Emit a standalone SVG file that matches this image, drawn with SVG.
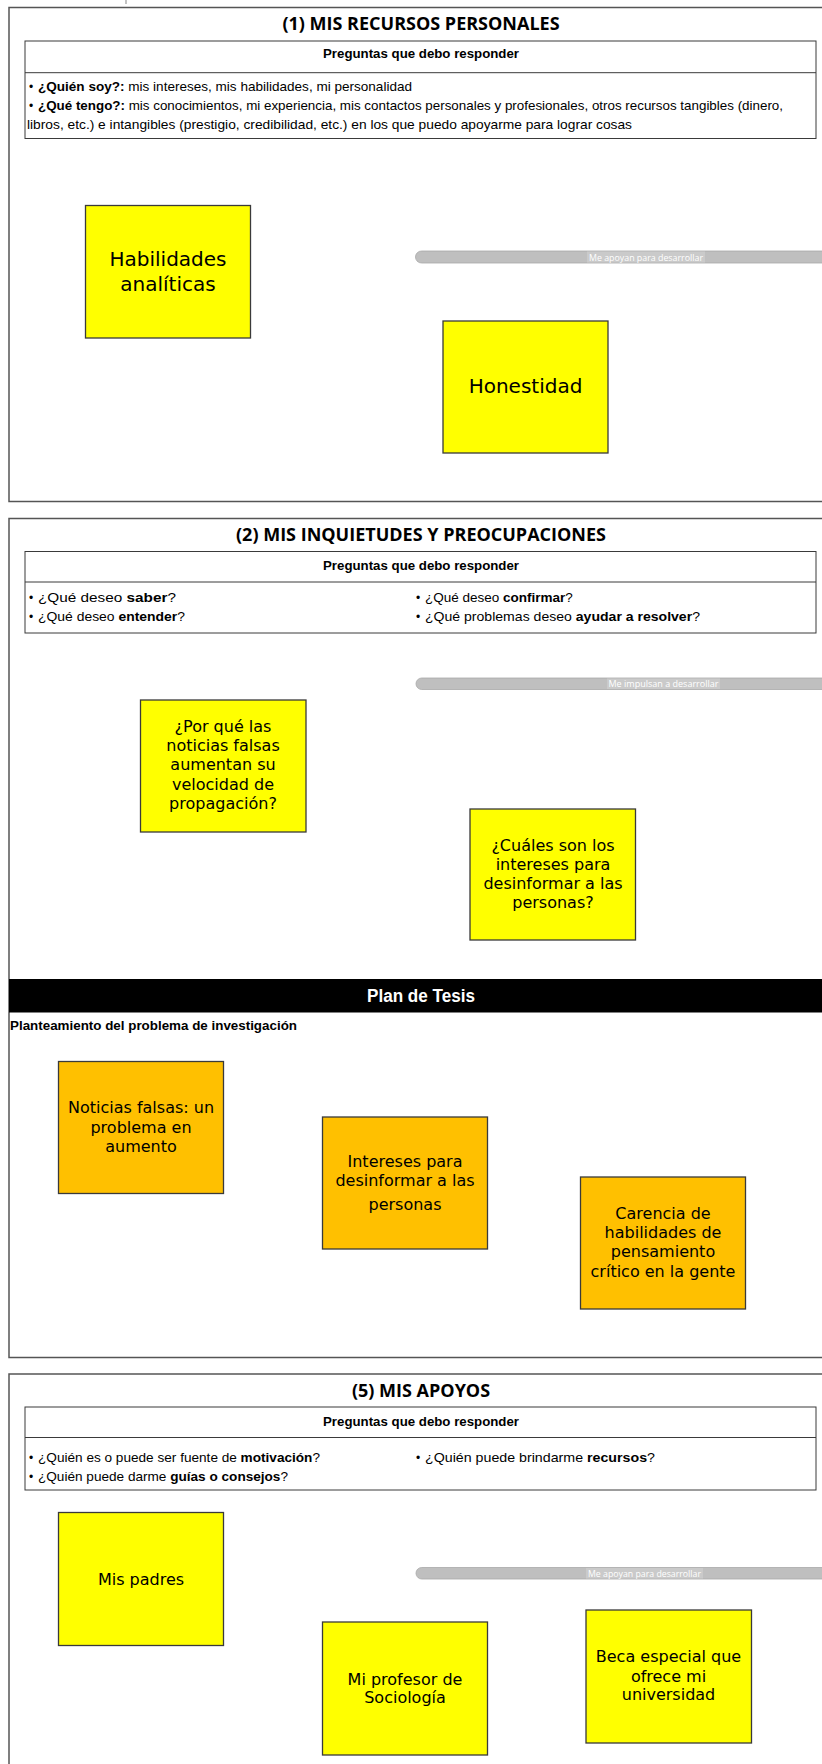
<svg xmlns="http://www.w3.org/2000/svg" width="822" height="1764" viewBox="0 0 822 1764">
<style>
.frame{fill:none;stroke:#555;stroke-width:1.5}
.tbl{fill:#fff;stroke:#3a3a3a;stroke-width:1}
.div{stroke:#3a3a3a;stroke-width:1}
.title{font-family:"Open Sans","Liberation Sans",sans-serif;font-weight:700;font-size:18px;text-anchor:middle;fill:#000}
.hdr{font-family:"Liberation Sans",Arial,sans-serif;font-weight:700;font-size:13.5px;text-anchor:middle;fill:#000}
.txt{font-family:"Liberation Sans",Arial,sans-serif;font-size:13.5px;fill:#000}
.bul{font-family:"Liberation Sans",Arial,sans-serif;font-size:12px;fill:#000}
.b{font-weight:700}
.nb{font-family:"Liberation Sans Narrow","Liberation Sans",Arial,sans-serif;font-weight:700}
.note{stroke:#3a3a3a;stroke-width:1.3}
.y{fill:#ffff00}
.o{fill:#ffc000}
.hand{font-family:"DejaVu Sans",sans-serif;font-size:16px;text-anchor:middle;fill:#000}
.h20{font-size:20px}
.bar{fill:#bfbfbf;stroke:#a8a8a8;stroke-width:0.8}
.lblbg{fill:#cacaca}
.lbl{font-family:"Open Sans","Liberation Sans",sans-serif;font-size:9.5px;fill:#fff;text-anchor:middle}
.band{fill:#000}
.bandtxt{font-family:"Liberation Sans",Arial,sans-serif;font-weight:700;font-size:18px;fill:#fff;text-anchor:middle}
</style>
<rect x="0" y="0" width="822" height="1764" fill="#fff"/>
<rect x="125.5" y="0" width="1" height="4" fill="#888"/>

<!-- Section 1 -->
<g id="section1">
<rect class="frame" x="9" y="7.5" width="830" height="494"/>
<text class="title" x="421" y="30">(1) MIS RECURSOS PERSONALES</text>
<rect class="tbl" x="25" y="41" width="791" height="97.5"/>
<line class="div" x1="25" y1="72.7" x2="816" y2="72.7"/>
<text class="hdr" x="421" y="57.5" textLength="196" lengthAdjust="spacingAndGlyphs">Preguntas que debo responder</text>
<text class="bul" x="29" y="91">•</text>
<text class="txt" x="38" y="91" textLength="374" lengthAdjust="spacingAndGlyphs"><tspan class="nb">¿Quién soy?:</tspan> mis intereses, mis habilidades, mi personalidad</text>
<text class="bul" x="29" y="110">•</text>
<text class="txt" x="38" y="110" textLength="745" lengthAdjust="spacingAndGlyphs"><tspan class="nb">¿Qué tengo?:</tspan> mis conocimientos, mi experiencia, mis contactos personales y profesionales, otros recursos tangibles (dinero,</text>
<text class="txt" x="27" y="129" textLength="605" lengthAdjust="spacingAndGlyphs">libros, etc.) e intangibles (prestigio, credibilidad, etc.) en los que puedo apoyarme para lograr cosas</text>
</g>
<g id="n-habilidades">
<rect class="note y" x="85.5" y="205.5" width="165" height="132.5"/>
<text class="hand h20" x="168" y="266">Habilidades</text>
<text class="hand h20" x="168" y="291">analíticas</text>
</g>
<g id="n-honestidad">
<rect class="note y" x="443" y="321" width="165" height="132"/>
<text class="hand h20" x="525.5" y="393">Honestidad</text>
</g>

<!-- Section 2 -->
<g id="section2">
<rect class="frame" x="9" y="518.5" width="830" height="839"/>
<text class="title" x="421" y="541">(2) MIS INQUIETUDES Y PREOCUPACIONES</text>
<rect class="tbl" x="25" y="551.5" width="791" height="81.5"/>
<line class="div" x1="25" y1="582" x2="816" y2="582"/>
<text class="hdr" x="421" y="570" textLength="196" lengthAdjust="spacingAndGlyphs">Preguntas que debo responder</text>
<text class="bul" x="29" y="602">•</text>
<text class="txt" x="38" y="602" textLength="138" lengthAdjust="spacingAndGlyphs">¿Qué deseo <tspan class="b">saber</tspan>?</text>
<text class="bul" x="29" y="620.5">•</text>
<text class="txt" x="38" y="620.5" textLength="147" lengthAdjust="spacingAndGlyphs">¿Qué deseo <tspan class="b">entender</tspan>?</text>
<text class="bul" x="416" y="602">•</text>
<text class="txt" x="425" y="602" font-size="12.8">¿Qué deseo <tspan class="b">confirmar</tspan>?</text>
<text class="bul" x="416" y="620.5">•</text>
<text class="txt" x="425" y="620.5" textLength="275" lengthAdjust="spacingAndGlyphs">¿Qué problemas deseo <tspan class="b">ayudar a resolver</tspan>?</text>
</g>
<g id="n-porque">
<rect class="note y" x="140.5" y="700" width="165.5" height="132"/>
<text class="hand" x="223" y="731.5">¿Por qué las</text>
<text class="hand" x="223" y="751">noticias falsas</text>
<text class="hand" x="223" y="770">aumentan su</text>
<text class="hand" x="223" y="789.5">velocidad de</text>
<text class="hand" x="223" y="809">propagación?</text>
</g>
<g id="n-cuales">
<rect class="note y" x="470" y="809" width="165.5" height="131"/>
<text class="hand" x="553" y="850.5">¿Cuáles son los</text>
<text class="hand" x="553" y="870">intereses para</text>
<text class="hand" x="553" y="889">desinformar a las</text>
<text class="hand" x="553" y="908">personas?</text>
</g>

<!-- Plan de Tesis -->
<g id="plan">
<rect class="band" x="9" y="979" width="813" height="33.5"/>
<text class="bandtxt" x="421" y="1002" textLength="108" lengthAdjust="spacingAndGlyphs">Plan de Tesis</text>
<text class="txt b" x="10" y="1030" textLength="287" lengthAdjust="spacingAndGlyphs">Planteamiento del problema de investigación</text>
</g>
<g id="n-noticias">
<rect class="note o" x="58.5" y="1061.5" width="165" height="132"/>
<text class="hand" x="141" y="1112.5">Noticias falsas: un</text>
<text class="hand" x="141" y="1132.5">problema en</text>
<text class="hand" x="141" y="1151.5">aumento</text>
</g>
<g id="n-intereses">
<rect class="note o" x="322.5" y="1117" width="165" height="132"/>
<text class="hand" x="405" y="1166.5">Intereses para</text>
<text class="hand" x="405" y="1186">desinformar a las</text>
<text class="hand" x="405" y="1210">personas</text>
</g>
<g id="n-carencia">
<rect class="note o" x="580.5" y="1177" width="165" height="132"/>
<text class="hand" x="663" y="1219">Carencia de</text>
<text class="hand" x="663" y="1238">habilidades de</text>
<text class="hand" x="663" y="1257">pensamiento</text>
<text class="hand" x="663" y="1277">crítico en la gente</text>
</g>

<!-- Section 5 -->
<g id="section5">
<rect class="frame" x="9" y="1374" width="830" height="420"/>
<text class="title" x="421" y="1397">(5) MIS APOYOS</text>
<rect class="tbl" x="25" y="1407" width="791" height="83"/>
<line class="div" x1="25" y1="1437.5" x2="816" y2="1437.5"/>
<text class="hdr" x="421" y="1426" textLength="196" lengthAdjust="spacingAndGlyphs">Preguntas que debo responder</text>
<text class="bul" x="29" y="1462">•</text>
<text class="txt" x="38" y="1462" textLength="282" lengthAdjust="spacingAndGlyphs">¿Quién es o puede ser fuente de <tspan class="b">motivación</tspan>?</text>
<text class="bul" x="29" y="1480.5">•</text>
<text class="txt" x="38" y="1480.5" textLength="250" lengthAdjust="spacingAndGlyphs">¿Quién puede darme <tspan class="b">guías o consejos</tspan>?</text>
<text class="bul" x="416" y="1462">•</text>
<text class="txt" x="425" y="1462" textLength="230" lengthAdjust="spacingAndGlyphs">¿Quién puede brindarme <tspan class="b">recursos</tspan>?</text>
</g>
<g id="n-padres">
<rect class="note y" x="58.5" y="1512.5" width="165" height="133"/>
<text class="hand" x="141" y="1585">Mis padres</text>
</g>
<g id="n-profesor">
<rect class="note y" x="322.5" y="1622" width="165" height="133"/>
<text class="hand" x="405" y="1685">Mi profesor de</text>
<text class="hand" x="405" y="1703">Sociología</text>
</g>
<g id="n-beca">
<rect class="note y" x="586" y="1610" width="165.5" height="133"/>
<text class="hand" x="668.5" y="1661.5">Beca especial que</text>
<text class="hand" x="668.5" y="1681.5">ofrece mi</text>
<text class="hand" x="668.5" y="1700">universidad</text>
</g>

<!-- connectors (relation bars) -->
<g id="connectors">
<rect class="bar" x="415.5" y="251" width="430" height="12" rx="6"/>
<rect class="lblbg" x="587" y="251.5" width="118" height="11"/>
<text class="lbl" x="646" y="260.5" textLength="114" lengthAdjust="spacingAndGlyphs">Me apoyan para desarrollar</text>
<rect class="bar" x="416" y="678" width="430" height="11.5" rx="5.75"/>
<rect class="lblbg" x="607" y="678.5" width="113" height="10.5"/>
<text class="lbl" x="663.5" y="687.3" textLength="110" lengthAdjust="spacingAndGlyphs">Me impulsan a desarrollar</text>
<rect class="bar" x="416" y="1567.5" width="430" height="11.5" rx="5.75"/>
<rect class="lblbg" x="586" y="1568" width="117" height="10.5"/>
<text class="lbl" x="644.5" y="1576.8" textLength="113" lengthAdjust="spacingAndGlyphs">Me apoyan para desarrollar</text>
</g>
</svg>
